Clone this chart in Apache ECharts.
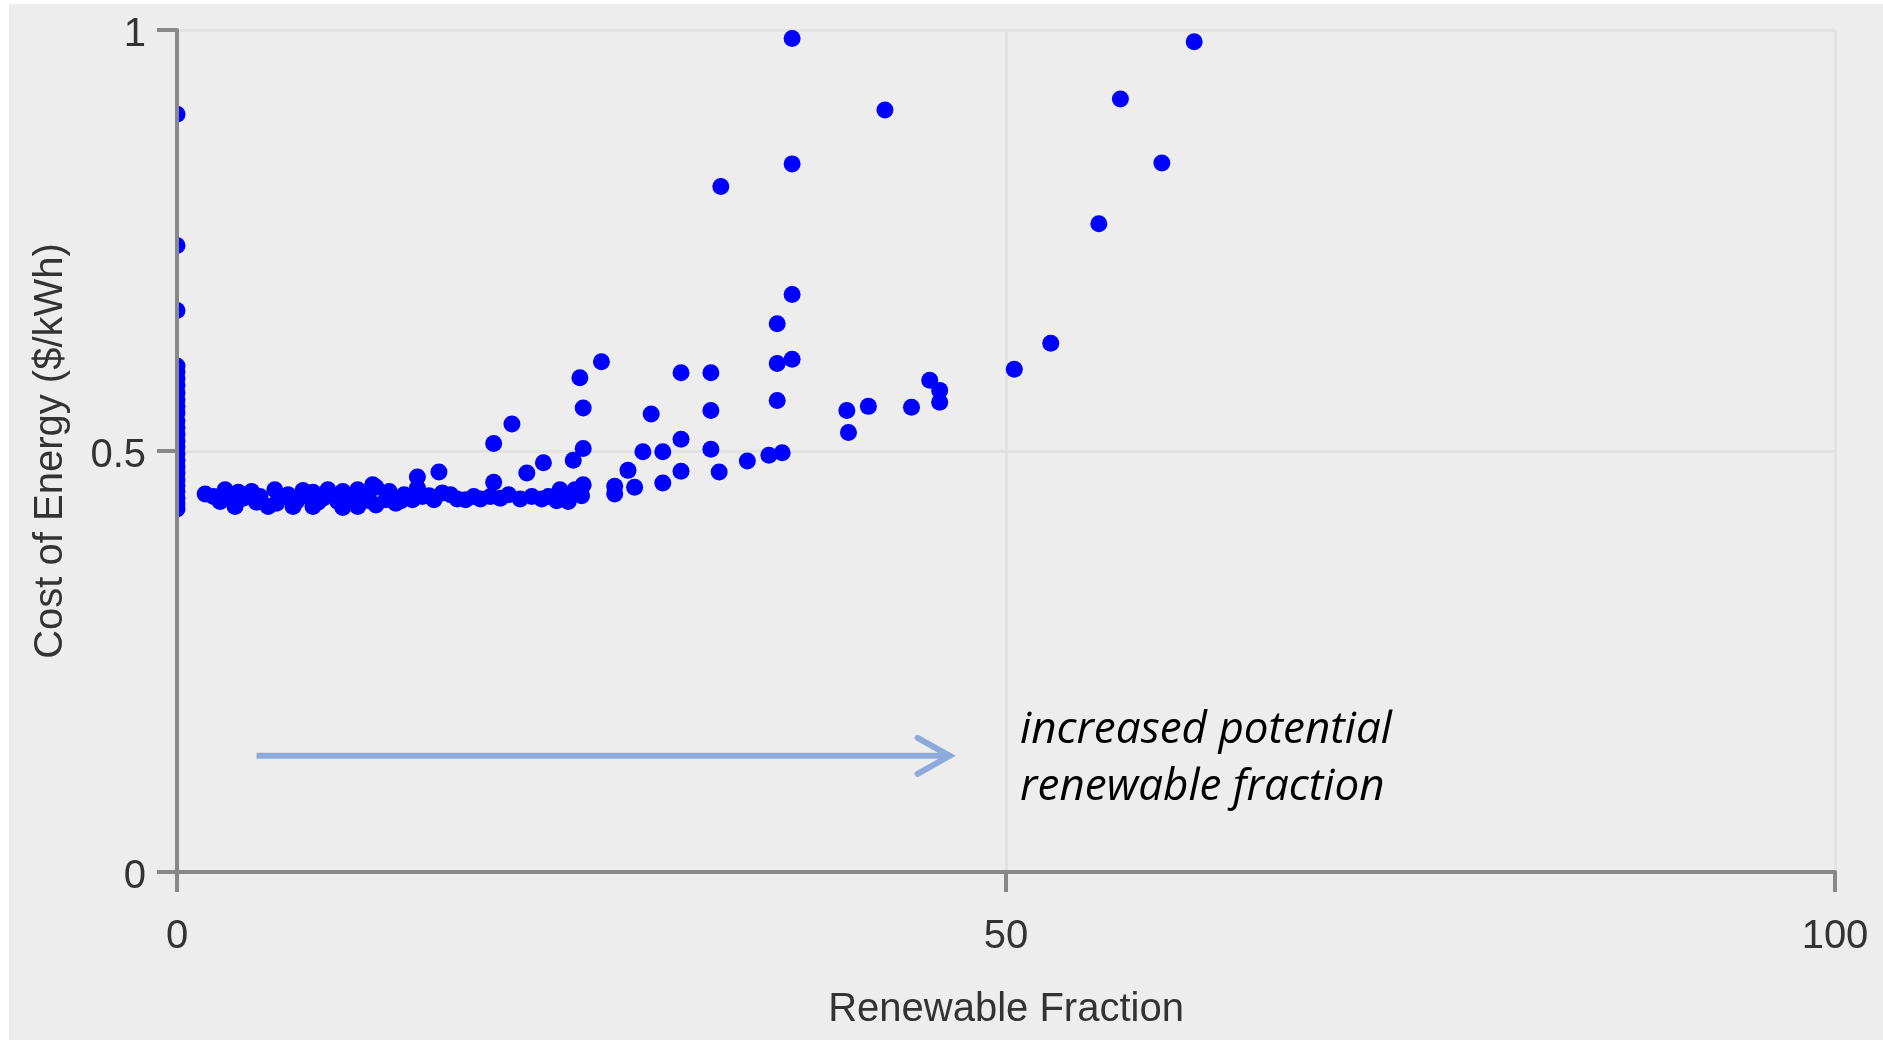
<!DOCTYPE html>
<html><head><meta charset="utf-8">
<script src="https://cdn.jsdelivr.net/npm/echarts@6/dist/echarts.min.js"></script>
<style>
html,body{margin:0;padding:0;background:#ffffff;width:1883px;height:1040px;overflow:hidden}
#c{position:absolute;left:9px;top:4px;width:1874px;height:1036px;background:#ededed}
</style>
</head><body><div id="c"></div>
<script>
// ---- data ----
const xName = 'Renewable Fraction';
const yName = 'Cost of Energy ($/kWh)';
const xTicks = [0, 50, 100];
const yTicks = [0, 0.5, 1];

// points sitting on the y axis (renewable fraction = 0)
const zeroFractionCost = [0.431, 0.437, 0.444, 0.452, 0.459, 0.466, 0.474, 0.481, 0.489, 0.497, 0.505, 0.512,
  0.520, 0.528, 0.536, 0.545, 0.553, 0.561, 0.569, 0.578, 0.586, 0.594, 0.601, 0.667, 0.744, 0.900];

const renewableFraction = [1.7, 2.2, 2.9, 3.5, 3.7, 4.0, 4.5, 5.0, 5.5, 5.9, 6.2, 6.7, 7.0, 7.5, 7.6, 8.2, 8.2, 8.8,
  9.1, 9.5, 10.0, 10.0, 10.4, 10.9, 10.9, 11.4, 11.8, 12.0, 12.0, 12.6, 12.8, 13.2, 13.7, 14.2, 14.5, 14.5, 14.8,
  15.2, 15.8, 16.0, 16.5, 17.4, 17.9, 18.9, 19.1, 19.1, 20.0, 20.2, 21.1, 21.4, 22.1, 22.4, 23.1, 23.5, 23.6, 23.9,
  24.0, 24.3, 24.5, 24.5, 24.5, 25.6, 26.4, 26.4, 27.2, 27.6, 28.1, 28.6, 29.3, 29.3, 30.4, 30.4, 30.4, 32.2, 32.2,
  32.2, 32.7, 32.8, 34.4, 35.7, 36.5, 36.2, 36.2, 37.1, 36.2, 37.1, 37.1, 37.1, 40.4, 40.5, 41.7, 42.7, 44.3, 45.4,
  46.0, 46.0, 50.5, 52.7, 55.6, 56.9, 59.4, 61.35,
  2.6, 3.2, 4.8, 6.0, 7.2, 8.5, 9.7, 11.0, 11.6, 13.5, 15.5, 16.9, 18.3, 19.5, 20.7, 22.0, 22.9, 24.4];
const costOfEnergy = [0.449, 0.446, 0.454, 0.434, 0.451, 0.444, 0.452, 0.446, 0.434, 0.454, 0.444, 0.448, 0.434,
  0.446, 0.453, 0.451, 0.434, 0.444, 0.454, 0.446, 0.433, 0.452, 0.444, 0.454, 0.434, 0.446, 0.460, 0.436, 0.457,
  0.442, 0.452, 0.438, 0.448, 0.442, 0.469, 0.456, 0.446, 0.447, 0.475, 0.450, 0.448, 0.442, 0.446, 0.446, 0.463,
  0.509, 0.448, 0.532, 0.474, 0.446, 0.486, 0.446, 0.454, 0.446, 0.440, 0.489, 0.454, 0.587, 0.460, 0.503, 0.551,
  0.606, 0.458, 0.449, 0.477, 0.457, 0.499, 0.544, 0.499, 0.462, 0.593, 0.514, 0.476, 0.593, 0.548, 0.502, 0.475,
  0.814, 0.488, 0.495, 0.498, 0.560, 0.604, 0.609, 0.651, 0.686, 0.841, 0.990, 0.548, 0.522, 0.553, 0.905, 0.552,
  0.584, 0.572, 0.558, 0.597, 0.628, 0.770, 0.918, 0.842, 0.986,
  0.440, 0.446, 0.439, 0.438, 0.440, 0.439, 0.440, 0.440, 0.441, 0.441, 0.442, 0.443, 0.443, 0.444, 0.443, 0.443,
  0.441, 0.447];

// annotation (data coordinates)
const arrowFrom = [4.8, 0.138];
const arrowTo = [46.6, 0.138];
const noteLines = ['increased potential', 'renewable fraction'];
const noteAt = [[50.85, 0.168], [50.85, 0.100]];

// ---- chart ----
const points = zeroFractionCost.map(v => [0, v])
  .concat(renewableFraction.map((x, i) => [x, costOfEnergy[i]]));

const axisGray = '#888888';
const textColor = '#333333';
const labelFont = 'Liberation Sans, Arial, sans-serif';

const chart = echarts.init(document.getElementById('c'), null, {renderer: 'canvas'});
const gridCfg = {left: 168, right: 48, top: 26, bottom: 168, containLabel: false};

function gridAxis(ticks) {
  return {
    type: 'value', min: ticks[0], max: ticks[ticks.length - 1], interval: ticks[1] - ticks[0],
    z: 0,
    axisLine: {show: false}, axisTick: {show: false}, axisLabel: {show: false},
    splitLine: {show: true, lineStyle: {color: '#e2e2e2', width: 3}}
  };
}
function mainAxis(ticks, name, margin, nameGap, labelExtra) {
  return {
    type: 'value', min: ticks[0], max: ticks[ticks.length - 1], interval: ticks[1] - ticks[0],
    z: 10,
    name: name, nameLocation: 'middle', nameGap: nameGap,
    nameTextStyle: {fontSize: 40, color: textColor, fontFamily: labelFont},
    axisLine: {show: true, onZero: false, lineStyle: {color: axisGray, width: 4}},
    axisTick: {show: true, length: 20, lineStyle: {color: axisGray, width: 4}},
    axisLabel: Object.assign({show: true, fontSize: 40, color: textColor, fontFamily: labelFont, margin: margin,
      formatter: v => String(ticks.find(t => Math.abs(t - v) < 1e-9) ?? v)}, labelExtra),
    splitLine: {show: false}
  };
}

chart.setOption({
  animation: false,
  backgroundColor: '#ededed',
  grid: gridCfg,
  xAxis: [gridAxis(xTicks), Object.assign(mainAxis(xTicks, xName, 45, 118, {}), {position: 'bottom'})],
  yAxis: [gridAxis(yTicks), Object.assign(mainAxis(yTicks, yName, 31, 106, {verticalAlign: 'top', lineHeight: 10}), {position: 'left'})],
  series: [{
    type: 'scatter', xAxisIndex: 1, yAxisIndex: 1, z: 2,
    symbol: 'circle', symbolSize: 17,
    itemStyle: {color: '#0000ff', opacity: 1},
    data: points
  }]
});

const toPx = p => chart.convertToPixel({xAxisIndex: 1, yAxisIndex: 1}, p);
const origin = toPx([xTicks[0], yTicks[0]]);
const a0 = toPx(arrowFrom), a1 = toPx(arrowTo);
const n0 = toPx(noteAt[0]), n1 = toPx(noteAt[1]);
const arrowColor = '#8eaadb';

chart.setOption({
  graphic: [
    {type: 'rect', z: 5, silent: true, shape: {x: 0, y: 0, width: origin[0], height: 1036},
      style: {fill: '#ededed'}},
    {type: 'line', z: 6, shape: {x1: a0[0], y1: a0[1], x2: a1[0] - 3, y2: a1[1]},
      style: {stroke: arrowColor, lineWidth: 6}},
    {type: 'polyline', z: 6, shape: {points: [[a1[0] - 32, a1[1] - 18], [a1[0], a1[1]], [a1[0] - 32, a1[1] + 18]]},
      style: {stroke: arrowColor, lineWidth: 6, fill: null, lineJoin: 'miter', lineCap: 'round'}},
    {type: 'text', z: 6, x: n0[0], y: n0[1], style: {text: noteLines[0], fill: '#000',
      font: 'italic 44px "Open Sans"', textAlign: 'left', textVerticalAlign: 'middle', verticalAlign: 'middle'}},
    {type: 'text', z: 6, x: n1[0], y: n1[1], style: {text: noteLines[1], fill: '#000',
      font: 'italic 44px "Open Sans"', textAlign: 'left', textVerticalAlign: 'middle', verticalAlign: 'middle'}}
  ]
});
</script>
</body></html>
